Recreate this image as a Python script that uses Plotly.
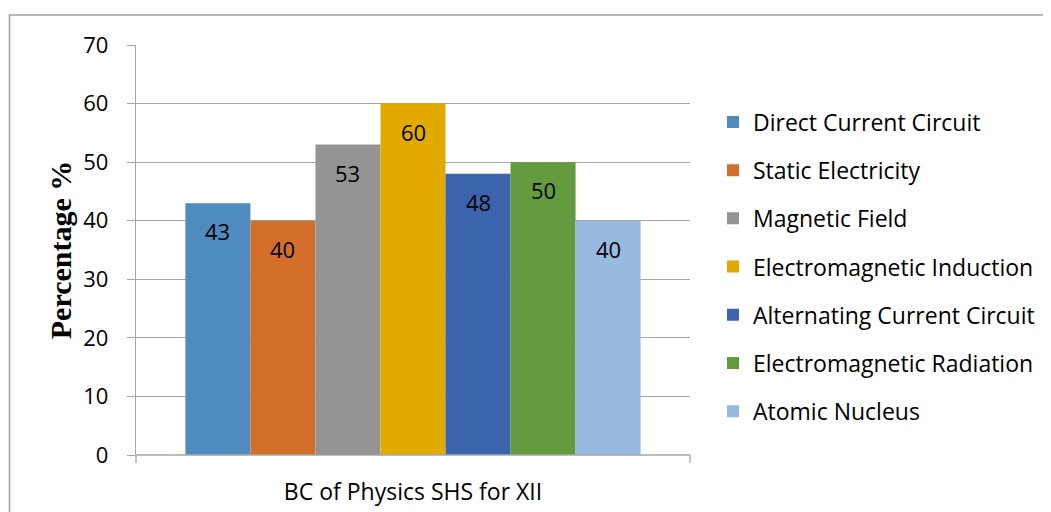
import plotly.graph_objects as go

category = "BC of Physics SHS for XII"
series_names = [
    "Direct Current Circuit",
    "Static Electricity",
    "Magnetic Field",
    "Electromagnetic Induction",
    "Alternating Current Circuit",
    "Electromagnetic Radiation",
    "Atomic Nucleus",
]
values = [43, 40, 53, 60, 48, 50, 40]
colors = ["#4E8BBF", "#D46F2B", "#949494", "#E2AA00", "#3C64AD", "#639B3E", "#98B9E0"]
y_ticks = [0, 10, 20, 30, 40, 50, 60, 70]

# page is offset by the default 8px body margin
OFF = 8
W, H = 1051, 512
L, T = 136 - OFF, 45 - OFF
PR, PB = 690 - OFF, 455 - OFF
R, B = W - PR, H - PB
pw, ph = PR - L, PB - T

FONT = "Open Sans"
GRID = "#A6A6A6"

fig = go.Figure()
n = len(values)
for i, (name, v, c) in enumerate(zip(series_names, values, colors)):
    fig.add_trace(go.Bar(
        x=[i], y=[v], width=1.0, name=name, marker=dict(color=c, line=dict(width=0)),
        legendgroup=name, hoverinfo="name+y",
    ))
    fig.add_annotation(x=i, y=v, text=str(v), showarrow=False, yshift=-28,
                       yanchor="middle", font=dict(family=FONT, size=22, color="#000000"))

pad = 0.76
fig.update_layout(
    width=W, height=H,
    margin=dict(l=L, r=R, t=T, b=B, autoexpand=False),
    paper_bgcolor="white", plot_bgcolor="white",
    barmode="overlay",
    showlegend=True,
    legend=dict(
        x=(713 - 136) / pw, xanchor="left", y=(455 - 267) / ph,
        yanchor="middle", font=dict(family=FONT, size=23, color="#000000"),
        traceorder="grouped", tracegroupgap=15.3, bgcolor="rgba(0,0,0,0)",
    ),
    xaxis=dict(
        range=[-0.5 - pad, n - 0.5 + pad], tickvals=[(n - 1) / 2], ticktext=[category],
        showgrid=False, zeroline=False, showline=False, ticks="",
        tickfont=dict(family=FONT, size=23, color="#000000"), ticklabelstandoff=21,
        fixedrange=True,
    ),
    yaxis=dict(
        range=[0, 70], tickvals=y_ticks, showgrid=True, gridcolor=GRID, gridwidth=1.3,
        zeroline=False, showline=True, linecolor=GRID, linewidth=1.3,
        ticks="outside", ticklen=8, tickcolor=GRID, tickwidth=1.3,
        tickfont=dict(family=FONT, size=22, color="#000000"), ticklabelstandoff=14,
        title=dict(text="<b>Percentage %</b>",
                   font=dict(family="Liberation Serif", size=30, color="#000000"),
                   standoff=2),
        fixedrange=True,
    ),
)

# baseline and category edge ticks of the x axis
fig.add_shape(type="line", xref="paper", yref="paper", x0=0, x1=1, y0=0, y1=0,
              line=dict(color=GRID, width=1.3))
for xp in (0, 1):
    fig.add_shape(type="line", xref="paper", yref="paper", x0=xp, x1=xp, y0=0, y1=-8 / ph,
                  line=dict(color=GRID, width=1.3))

# chart area border
fig.add_shape(type="rect", xref="paper", yref="paper",
              x0=(9.5 - 136) / pw, x1=(1070 - 136) / pw, y0=(455 - 530) / ph, y1=(455 - 15) / ph,
              line=dict(color="#A0A0A0", width=1.5), fillcolor="rgba(0,0,0,0)", layer="below")

fig.write_html("out.html")
